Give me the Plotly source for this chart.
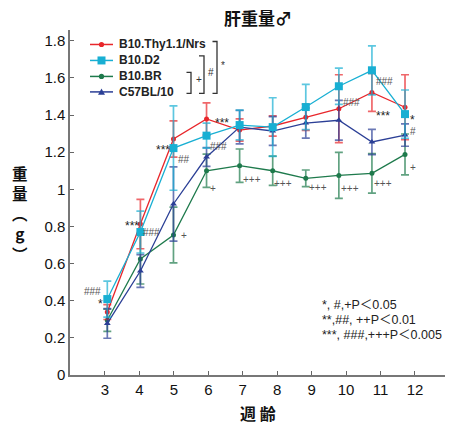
import plotly.graph_objects as go

# Liver weight by age (weeks), mean ± error
weeks = [3, 4, 5, 6, 7, 8, 9, 10, 11, 12]
strains = ["B10.Thy1.1/Nrs", "B10.D2", "B10.BR", "C57BL/10"]

thy = [0.339, 0.813, 1.271, 1.379, 1.319, 1.341, 1.388, 1.434, 1.522, 1.442]
thy_err = [0.040, 0.133, 0.098, 0.087, 0.060, 0.054, 0.071, 0.183, 0.102, 0.175]
d2 = [0.409, 0.770, 1.222, 1.289, 1.346, 1.335, 1.443, 1.555, 1.641, 1.405]
d2_err = [0.097, 0.113, 0.227, 0.067, 0.080, 0.158, 0.122, 0.098, 0.132, 0.130]
br = [0.295, 0.625, 0.754, 1.100, 1.127, 1.100, 1.059, 1.075, 1.086, 1.188]
br_err = [0.060, 0.135, 0.150, 0.090, 0.090, 0.079, 0.045, 0.124, 0.106, 0.110]
c57 = [0.278, 0.560, 0.921, 1.174, 1.335, 1.314, 1.357, 1.372, 1.255, 1.292]
c57_err = [0.080, 0.088, 0.200, 0.050, 0.090, 0.077, 0.081, 0.107, 0.068, 0.060]

y_ticks = [0, 0.2, 0.4, 0.6, 0.8, 1, 1.2, 1.4, 1.6, 1.8]
y_labels = ["0", "0.2", "0.4", "0.6", "0.8", "1", "1.2", "1.4", "1.6", "1.8"]

# significance marks beside the points (week, weight, label)
sig_week = [2.54, 2.80, 3.75, 4.35, 4.68, 5.32, 5.32, 6.47, 6.35, 6.20, 7.37, 8.31,
            9.37, 10.37, 10.34, 11.37, 11.34, 11.34, 12.24, 12.24, 12.24]
sig_val = [0.452, 0.382, 0.802, 0.770, 1.212, 1.158, 0.749, 1.357, 1.228, 1.007, 1.055,
           1.029, 1.012, 1.470, 1.002, 1.583, 1.395, 1.034, 1.373, 1.314, 1.120]
sig_text = ["###", "*", "***", "###", "***", "##", "+", "***", "###", "+", "+++", "+++",
            "+++", "###", "+++", "###", "***", "+++", "*", "#", "+"]

notes = ["*, #,+P＜0.05", "**,##, ++P＜0.01", "***, ###,+++P＜0.005"]

colors = ["#e8262b", "#18afd3", "#1e7a4c", "#2b3f96"]
bar_colors = ["rgba(232,38,43,0.7)", "rgba(24,175,211,0.7)",
              "rgba(30,122,76,0.7)", "rgba(43,63,150,0.7)"]
symbols = ["circle", "square", "circle", "triangle-up"]
msizes = [5, 8, 5, 6]

FONT = "Liberation Sans, Arial, Noto Sans CJK JP, sans-serif"
CJK = "Noto Sans CJK JP, sans-serif"

W, H = 451, 438
ML, MR, MT, MB = 70, 6, 30, 62.5
PW, PH = W - ML - MR, H - MT - MB


def px(x):
    """figure pixel column -> paper x"""
    return (x - ML) / PW


def py(y):
    """figure pixel row -> paper y"""
    return (H - MB - y) / PH


def label(x, y, text, size, color="#222", family=FONT, xanchor="center"):
    return dict(x=px(x), y=py(y), xref="paper", yref="paper", text=text,
                showarrow=False, xanchor=xanchor, yanchor="middle",
                font=dict(family=family, size=size, color=color))


fig = go.Figure()

series = [(thy, thy_err), (d2, d2_err), (br, br_err), (c57, c57_err)]
draw_order = [2, 0, 3, 1]
for i in draw_order:
    vals, errs = series[i]
    fig.add_trace(go.Scatter(
        x=weeks, y=vals, xaxis="x", yaxis="y",
        mode="lines+markers", name=strains[i], showlegend=False,
        line=dict(color=colors[i], width=1.3),
        marker=dict(symbol=symbols[i], size=msizes[i], color=colors[i]),
        error_y=dict(type="data", array=errs, visible=True,
                     color=bar_colors[i], thickness=1.7, width=4),
    ))

# empty trace that carries the labelled week axis
fig.add_trace(go.Scatter(x=weeks, y=[None] * len(weeks), xaxis="x2", yaxis="y",
                         mode="markers", showlegend=False, hoverinfo="skip"))

annotations = []
shapes = []

# hand-built legend
leg_rows = [44.5, 60.5, 76.5, 92.0]
for i in range(4):
    yy = py(leg_rows[i])
    shapes.append(dict(type="line", xref="paper", yref="paper",
                       x0=px(90), x1=px(113), y0=yy, y1=yy,
                       line=dict(color=colors[i], width=1.5)))
    cx, cy = 101.5, leg_rows[i]
    if symbols[i] == "circle":
        r = 2.6
        shapes.append(dict(type="circle", xref="paper", yref="paper",
                           x0=px(cx - r), x1=px(cx + r), y0=py(cy + r), y1=py(cy - r),
                           fillcolor=colors[i], line=dict(width=0)))
    elif symbols[i] == "square":
        r = 4
        shapes.append(dict(type="rect", xref="paper", yref="paper",
                           x0=px(cx - r), x1=px(cx + r), y0=py(cy + r), y1=py(cy - r),
                           fillcolor=colors[i], line=dict(width=0)))
    else:
        r = 3.5
        shapes.append(dict(type="path", xref="paper", yref="paper",
                           path="M %f %f L %f %f L %f %f Z" % (
                               px(cx - r), py(cy + r * 0.8), px(cx + r), py(cy + r * 0.8),
                               px(cx), py(cy - r)),
                           fillcolor=colors[i], line=dict(width=0)))
    annotations.append(label(117, leg_rows[i], "<b>%s</b>" % strains[i], 12,
                             xanchor="left"))

brackets = [(186.5, 191, 72.5, 93.5, "+", 199, 80),
            (199, 204, 56, 93.5, "#", 211, 73),
            (212.5, 217, 41.5, 93.5, "*", 223, 66)]
for x0, x1, y0, y1, lab, lx, ly in brackets:
    shapes.append(dict(type="path", xref="paper", yref="paper",
                       path="M %f %f L %f %f L %f %f L %f %f" % (
                           px(x0), py(y0), px(x1), py(y0), px(x1), py(y1), px(x0), py(y1)),
                       line=dict(color="#333", width=1.3)))
    annotations.append(label(lx, ly, lab, 10, color="#333"))

for sx, sy, st in zip(sig_week, sig_val, sig_text):
    size = 12 if "*" in st else 10
    col = "#222" if "*" in st else "#555"
    annotations.append(dict(x=sx, y=sy, xref="x", yref="y", text=st, showarrow=False,
                            xanchor="center", yanchor="middle",
                            font=dict(family=FONT, size=size, color=col)))

for k, line in enumerate(notes):
    annotations.append(label(320, 305 + 15 * k, line, 12.5,
                             family="Liberation Sans, Noto Sans CJK JP", xanchor="left"))

# titles
annotations.append(label(258, 17, "<b>肝重量♂</b>", 17, color="#111", family=CJK))
annotations.append(label(258, 414, "<b>週 齢</b>", 16, color="#111", family=CJK))
annotations.append(label(20, 214, "<b>重<br>量<br>︵<br>g<br>︶</b>", 15.5, color="#111",
                         family=CJK))

fig.update_layout(
    width=W, height=H,
    margin=dict(l=ML, r=MR, t=MT, b=MB),
    paper_bgcolor="white", plot_bgcolor="white",
    showlegend=False,
    # week positions of the plotted points
    xaxis=dict(domain=[0, 1], range=[1.872, 13.209], visible=False),
    # labelled week axis
    xaxis2=dict(overlaying="x", anchor="y", range=[1.984, 12.872], tickvals=weeks,
                ticktext=[str(w) for w in weeks], ticks="inside", ticklen=4,
                tickcolor="#666", showline=True, linecolor="#777", linewidth=1.5,
                showgrid=False, zeroline=False, side="bottom",
                tickfont=dict(family=FONT, size=15, color="#111")),
    yaxis=dict(range=[0, 1.858], tickvals=y_ticks, ticktext=y_labels,
               ticks="inside", ticklen=4, tickcolor="#666",
               showline=True, linecolor="#777", linewidth=1.5,
               showgrid=False, zeroline=False,
               tickfont=dict(family=FONT, size=15, color="#111")),
    annotations=annotations,
    shapes=shapes,
)

fig.write_html("out.html")
